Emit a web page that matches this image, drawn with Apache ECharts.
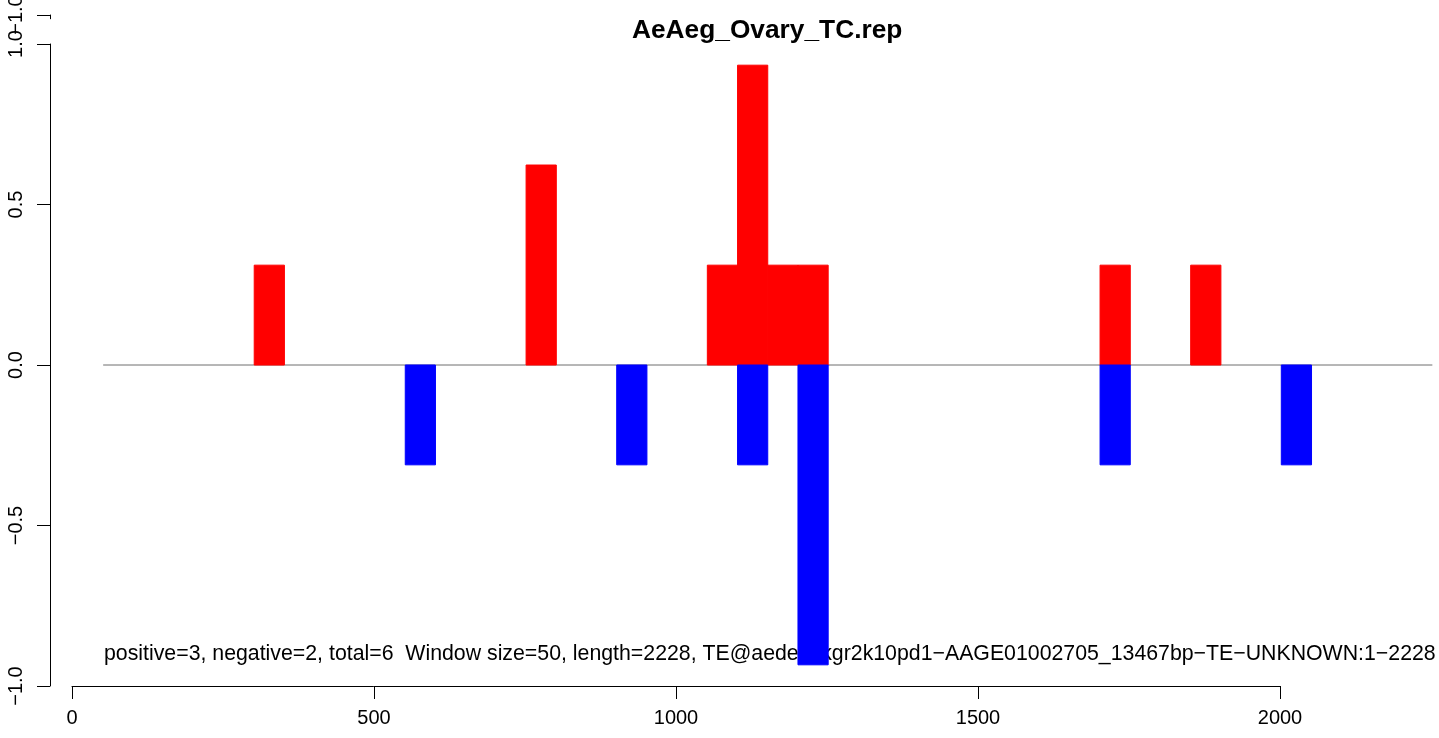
<!DOCTYPE html>
<html>
<head>
<meta charset="utf-8">
<script src="https://cdn.jsdelivr.net/npm/echarts@6/dist/echarts.min.js"></script>
<style>
html,body{margin:0;padding:0;background:#fff;}
#chart{width:1439px;height:738px;}
</style>
</head>
<body>
<div id="chart"></div>
<script>
// ---- data ----
var windowSize = 50;
var posStarts = [300, 750, 1050, 1100, 1150, 1200, 1700, 1850];
var posValues = [0.311, 0.623, 0.311, 0.934, 0.311, 0.311, 0.311, 0.311];
var negStarts = [550, 900, 1100, 1200, 1700, 2000];
var negValues = [-0.311, -0.311, -0.311, -0.934, -0.311, -0.311];
var baselineX = [50, 2250];
var xTicks = [0, 500, 1000, 1500, 2000];
var yTicks = [-1, -0.5, 0, 0.5, 1];
var titleText = 'AeAeg_Ovary_TC.rep';
var infoText = 'positive=3, negative=2, total=6  Window size=50, length=2228, TE@aedes4kgr2k10pd1\u2212AAGE01002705_13467bp\u2212TE\u2212UNKNOWN:1\u22122228';

var FONT = '"Liberation Sans", Arial, Helvetica, sans-serif';

function fmtY(v){
  var s = v.toFixed(1);
  return s.replace('-', '\u2212');
}

function toRects(starts, values){
  return starts.map(function(s, i){ return [s, s + windowSize, values[i]]; });
}

function rectRender(params, api){
  var x0 = api.value(0), x1 = api.value(1), v = api.value(2);
  var p0 = api.coord([x0, v]);
  var p1 = api.coord([x1, 0]);
  var c = api.visual('color');
  return {
    type: 'rect',
    shape: {
      x: p0[0],
      y: Math.min(p0[1], p1[1]),
      width: p1[0] - p0[0],
      height: Math.abs(p1[1] - p0[1])
    },
    style: { fill: c, stroke: c, lineWidth: 1 }
  };
}

function yAxisStyle(extra){
  var o = {
    type: 'value', min: -1, max: 1, interval: 0.5,
    axisLine: { show: true, onZero: false, lineStyle: { color: '#000', width: 1 } },
    axisTick: { show: true, length: 13, inside: false, lineStyle: { color: '#000', width: 1 } },
    axisLabel: { show: true, rotate: 90, margin: 24, color: '#000', fontSize: 20, fontFamily: FONT, formatter: fmtY },
    splitLine: { show: false }
  };
  return Object.assign(o, extra);
}

var chart = echarts.init(document.getElementById('chart'), null, { renderer: 'canvas' });
chart.setOption({
  animation: false,
  backgroundColor: '#fff',
  title: [
    { text: titleText, left: 632, top: 18, padding: 0,
      textStyle: { fontFamily: FONT, fontSize: 26.3, fontWeight: 'bold', color: '#000' } },
    { text: infoText, left: 104, top: 644, padding: 0, z: 0,
      textStyle: { fontFamily: FONT, fontSize: 21.3, fontWeight: 'normal', color: '#000' } }
  ],
  grid: [
    { left: 50, right: 0, top: 44, height: 642 },
    { left: 72, right: 159, top: 44, height: 642 },
    { left: 50, right: 0, top: 0, height: 15 }
  ],
  xAxis: [
    { gridIndex: 0, type: 'value', min: -38, max: 2261, show: false },
    { gridIndex: 1, type: 'value', min: 0, max: 2000, interval: 500,
      axisLine: { show: true, onZero: false, lineStyle: { color: '#000', width: 1 } },
      axisTick: { show: true, length: 13, lineStyle: { color: '#000', width: 1 } },
      axisLabel: { show: true, margin: 22, color: '#000', fontSize: 20, fontFamily: FONT,
        formatter: function(v){ return String(v); } },
      splitLine: { show: false } },
    { gridIndex: 2, type: 'value', min: 0, max: 1, show: false }
  ],
  yAxis: [
    yAxisStyle({ gridIndex: 0 }),
    { gridIndex: 1, type: 'value', min: -1, max: 1, show: false },
    yAxisStyle({ gridIndex: 2, min: -1, max: -1 + 15 / 321 })
  ],
  series: [
    { type: 'line', xAxisIndex: 0, yAxisIndex: 0, silent: true, symbol: 'none', z: 3,
      data: baselineX.map(function(x){ return [x, 0]; }),
      lineStyle: { color: '#6e6e6e', width: 1 } },
    { type: 'custom', xAxisIndex: 0, yAxisIndex: 0, z: 10, color: '#ff0000',
      renderItem: rectRender, data: toRects(posStarts, posValues) },
    { type: 'custom', xAxisIndex: 0, yAxisIndex: 0, z: 10, color: '#0000ff',
      renderItem: rectRender, data: toRects(negStarts, negValues) }
  ]
});
</script>
</body>
</html>
